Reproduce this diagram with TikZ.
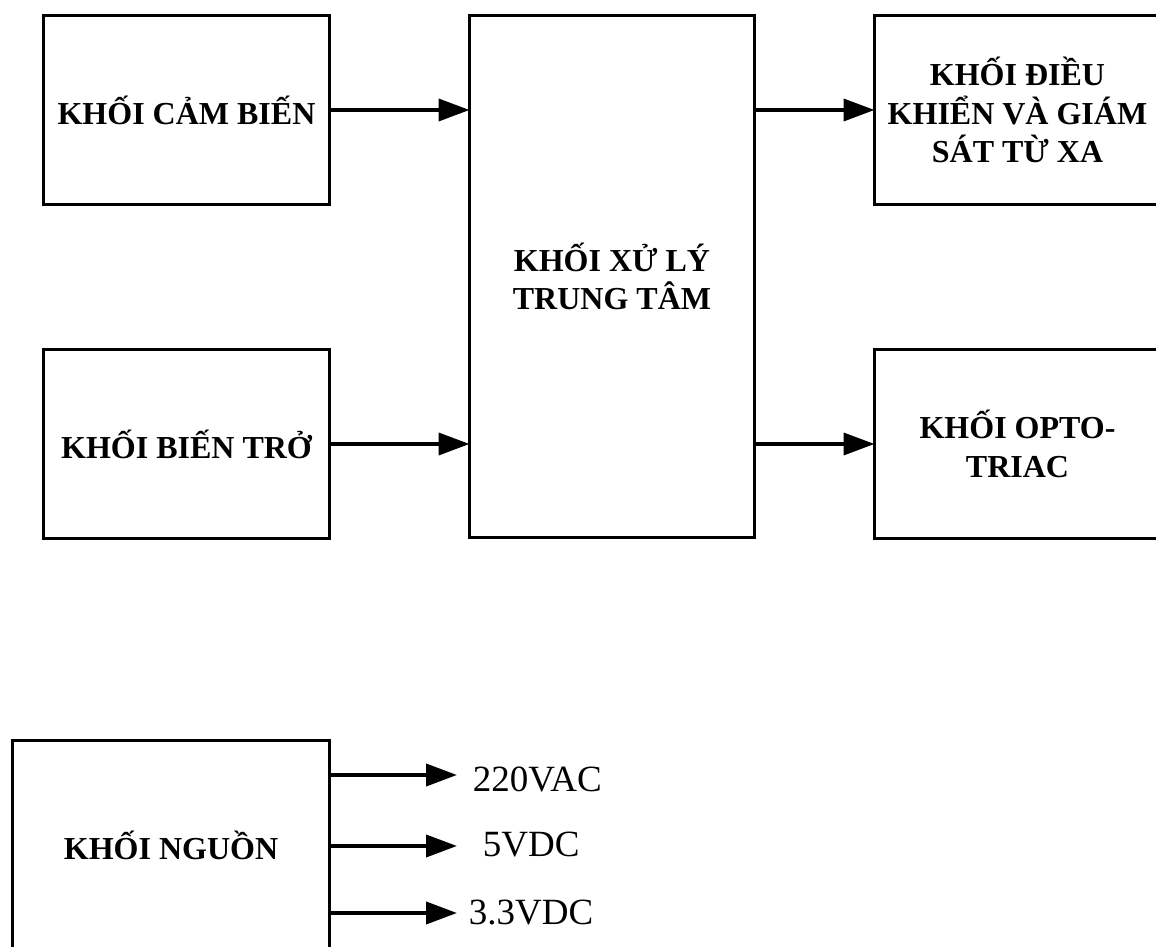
\documentclass[tikz,border=0pt]{standalone}
\usepackage{fontspec}
\setmainfont{Liberation Serif}
\usepackage{tikz}
\usetikzlibrary{arrows.meta,positioning}

\begin{document}
\begin{tikzpicture}[x=1pt,y=1pt,>={Triangle[length=31pt,width=22pt]},line width=3.8pt,
      khoi/.style={draw,rectangle,outer sep=0pt,inner sep=0pt,align=center,
        minimum width=286pt,minimum height=189pt,
        font=\bfseries\fontsize{32}{38.5}\selectfont},
      nhan/.style={anchor=west,inner sep=0pt,font=\fontsize{37}{40}\selectfont}]
      \clip (0,0) rectangle (1156,947);

      \node[khoi] (cam) at (186.5,837) {KHỐI CẢM BIẾN};
      \node[khoi] (bien) [below=145pt of cam] {KHỐI BIẾN TRỞ};
      \node[khoi,minimum width=285pt,minimum height=522pt] (cpu)
        [right=140pt of cam.north east,anchor=north west] {KHỐI XỬ LÝ\\TRUNG TÂM};
      \node[khoi] (dk) at (1017.5,837) {KHỐI ĐIỀU\\KHIỂN VÀ GIÁM\\SÁT TỪ XA};
      \node[khoi] (opto) [below=145pt of dk] {KHỐI OPTO-\\TRIAC};
      \node[khoi,minimum width=317pt,minimum height=209pt] (nguon) at (171,102) {KHỐI NGUỒN};

      % cac dau ra cua khoi nguon
      \coordinate (ac) at (457,172);
      \coordinate (dc5) at (457,101);
      \coordinate (dc3) at (457,34);
      \node[nhan] (lac) at (471,168) {220VAC};
      \node[nhan] (l5) at (481,102) {5VDC};
      \node[nhan] (l3) at (467,34) {3.3VDC};

      \path[->]
        (cam.east) edge (cam.east -| cpu.west)
        (bien.east) edge (bien.east -| cpu.west)
        (cpu.east |- dk.west) edge (dk.west)
        (cpu.east |- opto.west) edge (opto.west)
        (nguon.east |- ac) edge (ac)
        (nguon.east |- dc5) edge (dc5)
        (nguon.east |- dc3) edge (dc3);
    \end{tikzpicture}
\end{document}
